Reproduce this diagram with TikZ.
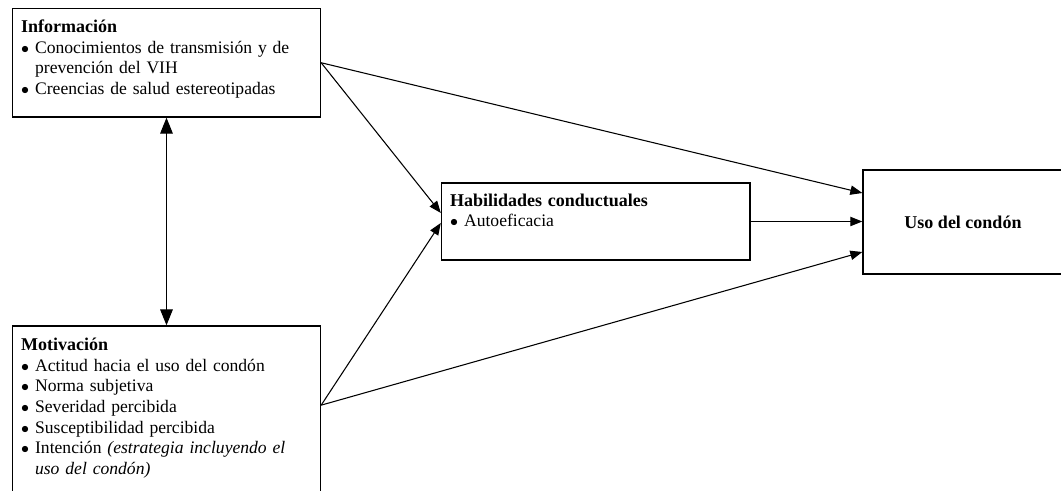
\documentclass[tikz,border=0pt]{standalone}
\usepackage{fontspec}
\setmainfont{Liberation Serif}
\usetikzlibrary{arrows.meta}
\newcommand{\bul}{\makebox[10.5pt][l]{$\bullet$}}
\newcommand{\bcont}{\hspace*{10.5pt}}
\newcommand{\hd}[1]{{\fontsize{13.5}{15.5}\selectfont\textbf{#1}}}

\begin{document}
\begin{tikzpicture}[x=0.75pt, y=-0.75pt,
  box/.style={draw, line width=1pt, inner sep=0pt},
  txt/.style={inner sep=0pt, anchor=base west, align=left, text width=225pt, font=\fontsize{13.2}{15.5}\selectfont},
  arr/.style={line width=0.8pt, -{Triangle[length=9pt,width=7pt]}},
  dbl/.style={line width=0.8pt, {Triangle[length=12pt,width=9.5pt]}-{Triangle[length=12pt,width=9.5pt]}}]
	\useasboundingbox (0,0) rectangle (1061,491);
	\clip (0,0) rectangle (1061,491);
	% boxes
	\node[box, minimum width=231pt, minimum height=81.4pt] (info) at (166.5,62.75) {};
	\node[box, minimum width=231pt, minimum height=126.75pt] (motiv) at (166.5,410.5) {};
	\node[box, minimum width=231.4pt, minimum height=57.75pt] (habil) at (595.75,221.5) {};
	\node[box, minimum width=150pt, minimum height=78pt] (uso) at (963,222) {\hd{Uso del condón}};
	% texts
	\node[txt] (infotxt) at ([xshift=6.75pt, yshift=-18.5pt]info.north west) {\hd{Información}\\
		\bul Conocimientos de transmisión y de\\
		\bcont prevención del VIH\\
		\bul Creencias de salud estereotipadas};
	\node[txt] (motivtxt) at ([xshift=6.75pt, yshift=-19pt]motiv.north west) {\hd{Motivación}\\
		\bul Actitud hacia el uso del condón\\
		\bul Norma subjetiva\\
		\bul Severidad percibida\\
		\bul Susceptibilidad percibida\\
		\bul Intención \textit{(estrategia incluyendo el}\\
		\bcont \textit{uso del condón)}};
	\node[txt] (habiltxt) at ([xshift=6.75pt, yshift=-18pt]habil.north west) {\hd{Habilidades conductuales}\\
		\bul Autoeficacia};
	% connectors
	\coordinate (mout) at ([yshift=4pt]motiv.east);
	\draw[dbl] (info) -- (motiv);
	\draw[arr] (info.east) -- ([yshift=6.4pt]habil.west);
	\draw[arr] (info.east) -- ([yshift=21.75pt]uso.west);
	\draw[arr] (mout) -- ([yshift=-1.1pt]habil.west);
	\draw[arr] (mout) -- ([yshift=-22.5pt]uso.west);
	\draw[arr] (habil.east) -- (habil.east -| uso.west);
\end{tikzpicture}
\end{document}
